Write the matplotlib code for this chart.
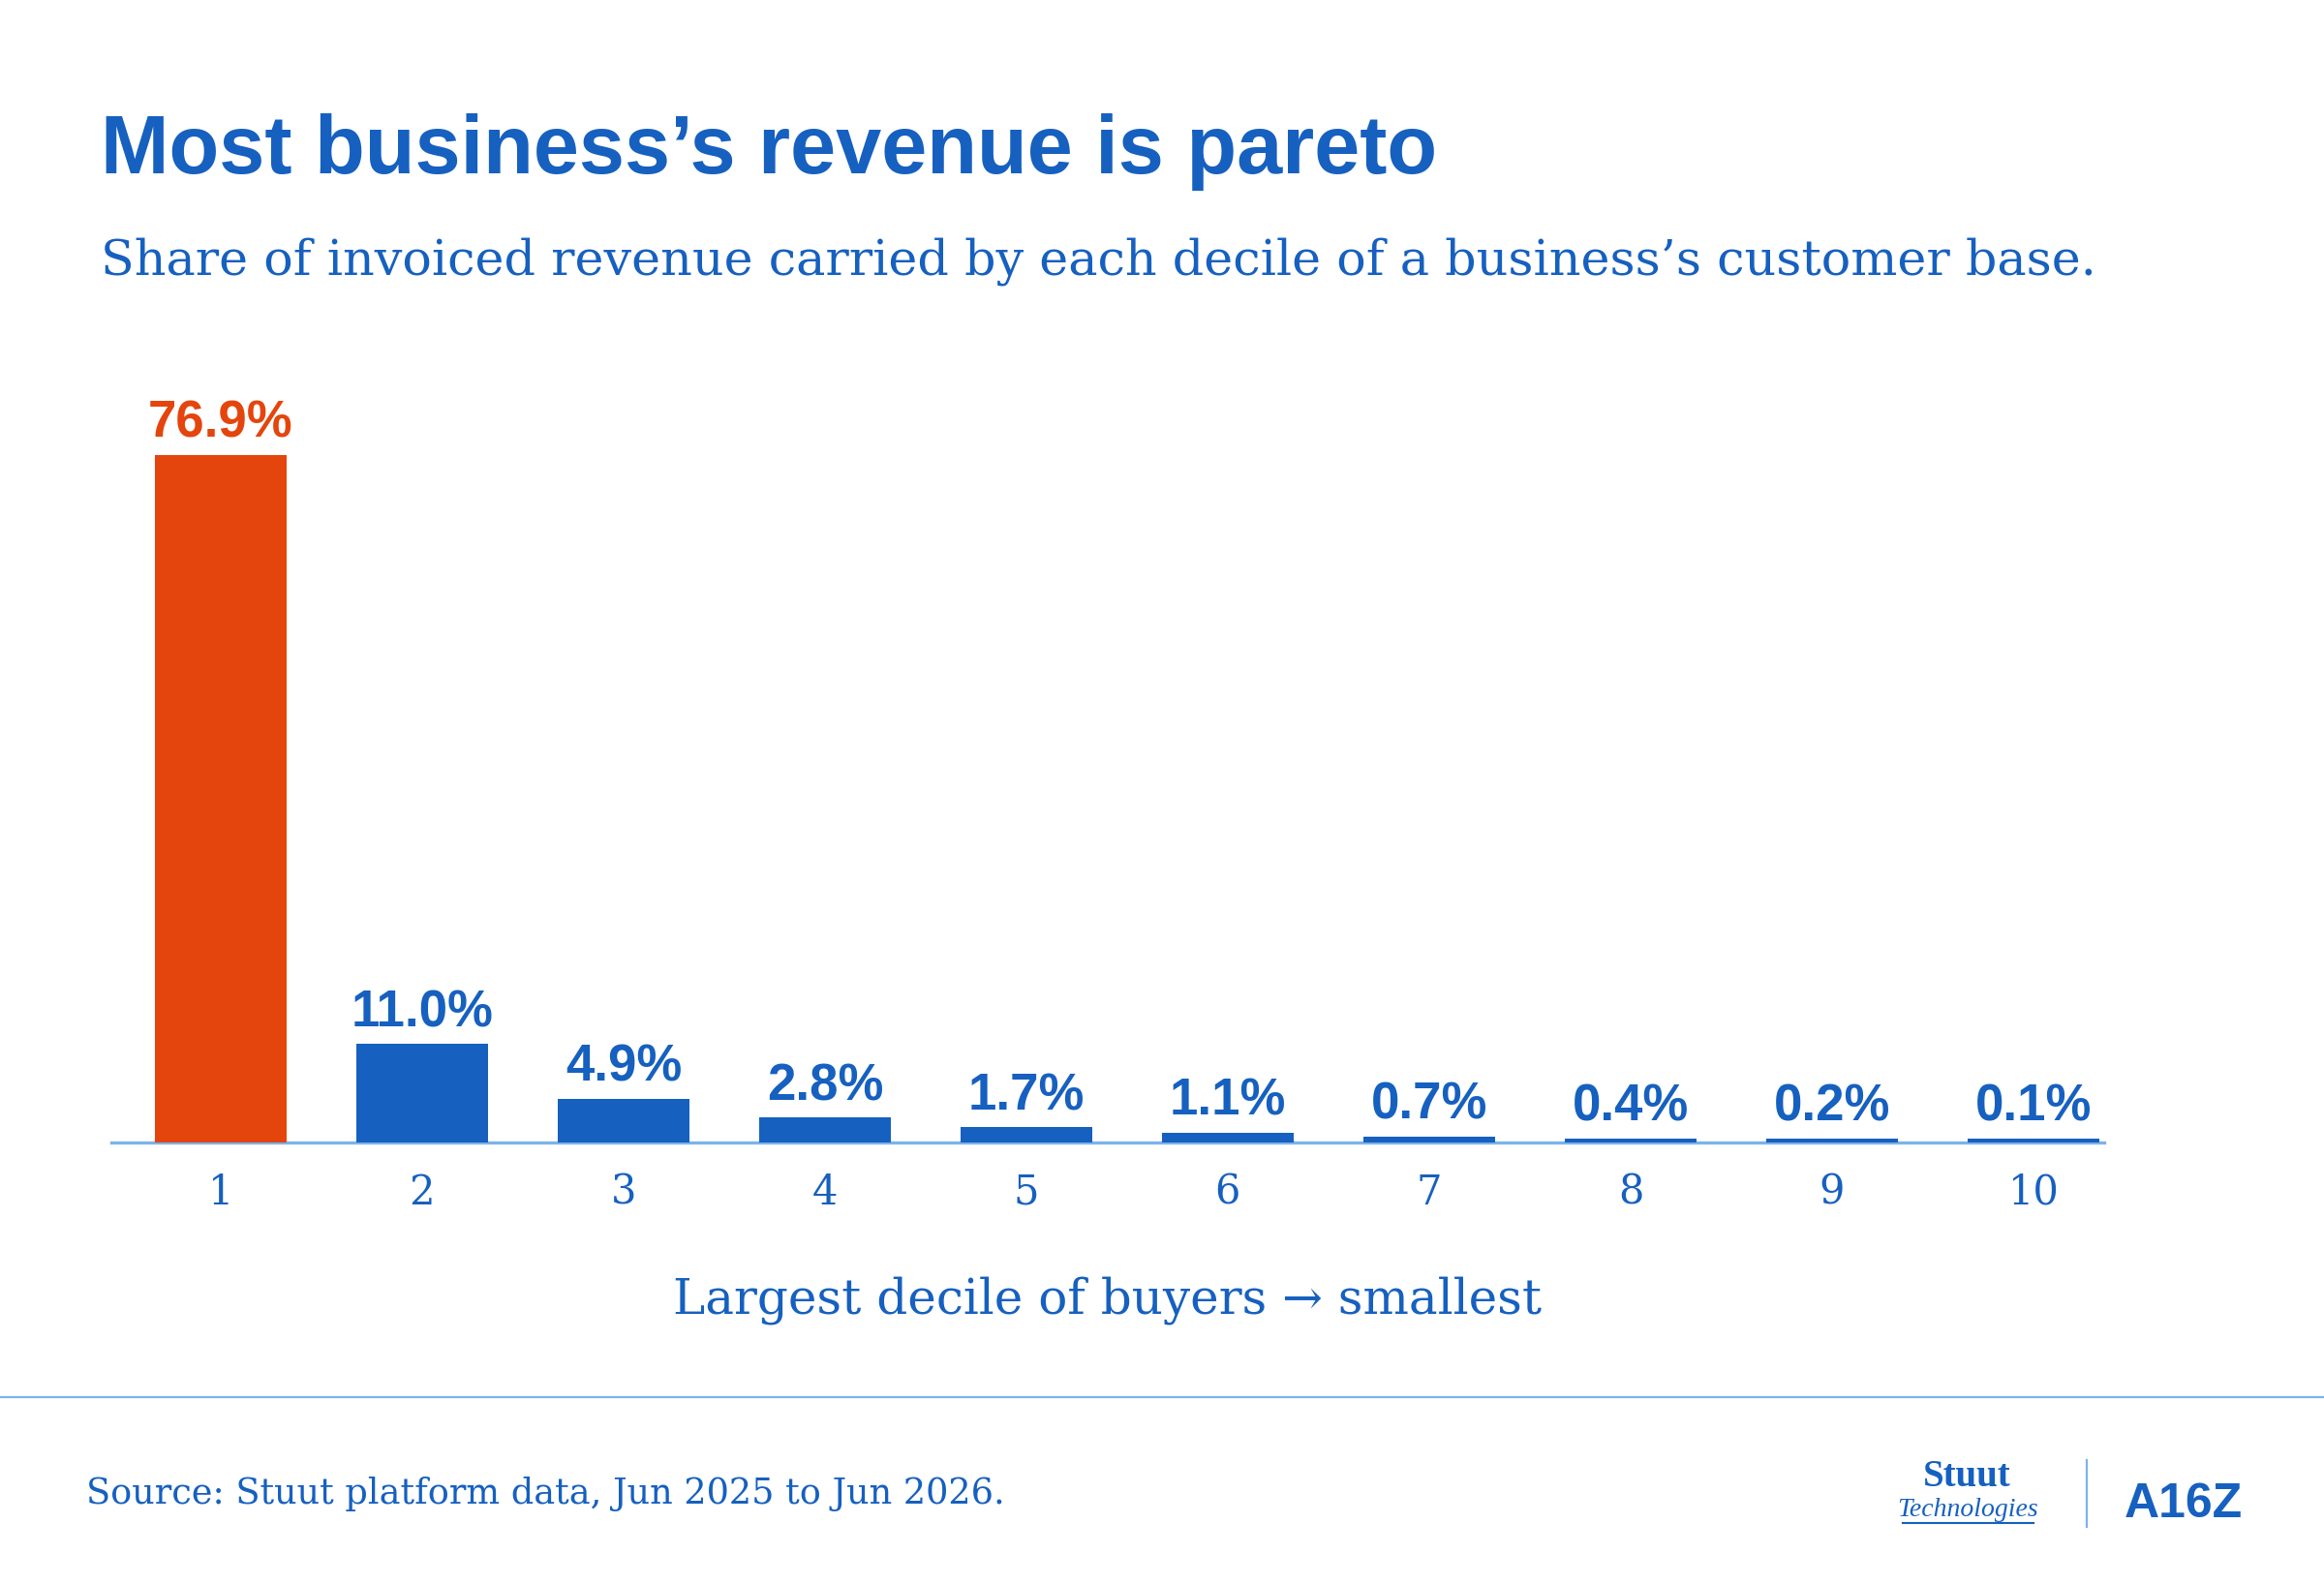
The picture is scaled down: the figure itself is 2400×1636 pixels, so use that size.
import matplotlib as mpl
mpl.use('Agg')
import matplotlib.pyplot as plt
from matplotlib.lines import Line2D

BLUE = "#1660C0"
ORANGE = "#E4450C"
LIGHT = "#7DB2EA"

# deciles of the customer base, largest -> smallest
DECILES = ["1", "2", "3", "4", "5", "6", "7", "8", "9", "10"]
SHARE = [76.9, 11.0, 4.9, 2.8, 1.7, 1.1, 0.7, 0.4, 0.2, 0.1]

TITLE = "Most business\u2019s revenue is pareto"
SUBTITLE = "Share of invoiced revenue carried by each decile of a business\u2019s customer base."
XLABEL = "Largest decile of buyers \u2192 smallest"
SOURCE = "Source: Stuut platform data, Jun 2025 to Jun 2026."

# tiny deciles still get a visible sliver
MIN_VIS = 0.45

SANS = ['Liberation Sans', 'DejaVu Sans']
SERIF = ['DejaVu Serif', 'DejaVu Sans']


def plot():
    fig = plt.figure(figsize=(24, 16.36), dpi=100)
    fig.patch.set_facecolor('white')
    ax = fig.add_axes([0.0479, 0.2787, 0.8575, 0.4517])

    x = list(range(len(SHARE)))
    heights = [max(v, MIN_VIS) for v in SHARE]
    colors = [ORANGE if i == 0 else BLUE for i in x]
    ax.bar(x, heights, width=0.65, color=colors, zorder=3)

    for i, (h, v) in enumerate(zip(heights, SHARE)):
        ax.annotate('%.1f%%' % v, (i, h), xytext=(0, 13), textcoords='offset points',
                    ha='center', va='baseline', fontsize=38, fontweight='bold',
                    family=SANS, color=colors[i])

    ax.set_xlim(-0.543, 9.351)
    ax.set_ylim(0, 80)

    # only the baseline stays
    for s in ['top', 'right', 'left']:
        ax.spines[s].set_visible(False)
    ax.spines['bottom'].set_color(LIGHT)
    ax.spines['bottom'].set_linewidth(2.4)
    ax.spines['bottom'].set_zorder(2)
    ax.set_yticks([])
    ax.set_xticks(x)
    ax.set_xticklabels(DECILES, family=SERIF, fontsize=30, color=BLUE)
    ax.tick_params(axis='x', length=0, pad=22)

    fig.text(1144 / 2400, 0.1711, XLABEL, ha='center', va='baseline',
             fontsize=36, family=SERIF, color=BLUE)

    # header
    fig.text(0.0433, 0.8906, TITLE, ha='left', va='baseline', fontsize=61,
             fontweight='bold', family=SANS, color=BLUE)
    fig.text(0.0433, 0.8270, SUBTITLE, ha='left', va='baseline', fontsize=36.5,
             family=SERIF, color=BLUE)

    # footer
    fig.add_artist(Line2D([0, 1], [0.1180, 0.1180], color=LIGHT, lw=1.6))
    fig.text(0.0371, 0.0507, SOURCE, ha='left', va='baseline', fontsize=26.4,
             family=SERIF, color=BLUE)

    fig.text(0.8463, 0.0615, "Stuut", ha='center', va='baseline', fontsize=28,
             fontweight='bold', family=['Liberation Serif'], color=BLUE)
    fig.text(0.8467, 0.0425, "Technologies", ha='center', va='baseline', fontsize=20,
             style='italic', family=['Liberation Serif'], color=BLUE)
    fig.add_artist(Line2D([0.8188, 0.8750], [0.0388, 0.0388], color=BLUE, lw=1.5))
    fig.add_artist(Line2D([0.8979, 0.8979], [0.0361, 0.0783], color=LIGHT, lw=1.6))
    fig.text(0.9396, 0.0422, "A16Z", ha='center', va='baseline', fontsize=36,
             fontweight='bold', family=SANS, color=BLUE)

    plt.savefig('out.png', dpi=100)
    plt.close(fig)


if __name__ == "__main__":
    plot()
